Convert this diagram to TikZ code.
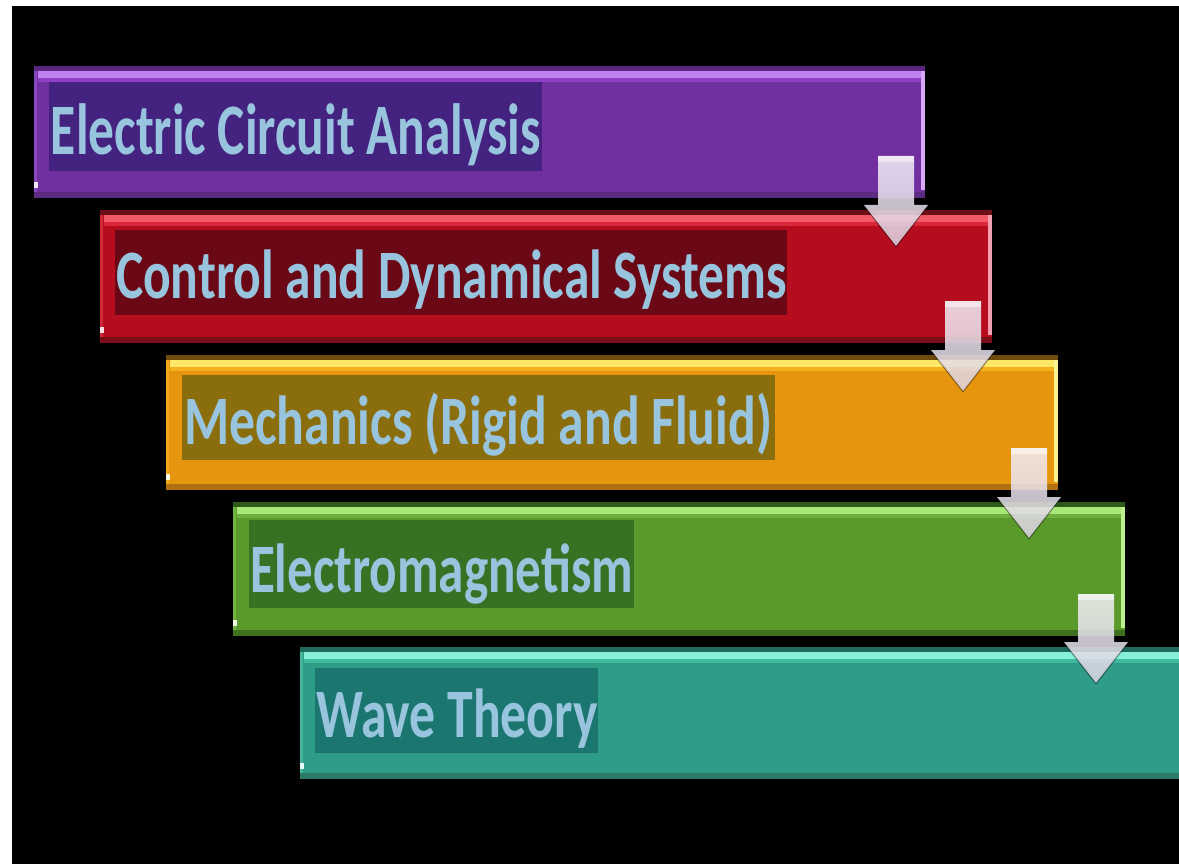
\documentclass[tikz,border=0pt]{standalone}
\usepackage{graphicx}
\usepackage{fontspec}
\setmainfont{Carlito}
\usetikzlibrary{calc}

% bar palettes: M main, D top rim, H highlight, I under-highlight, B bottom rim, E left edge, R right edge, L label
\definecolor{pM}{HTML}{7030A0}\definecolor{pD}{HTML}{5A2680}\definecolor{pH}{HTML}{C080F0}
\definecolor{pI}{HTML}{9040C8}\definecolor{pB}{HTML}{5C2C80}\definecolor{pE}{HTML}{8A48C0}
\definecolor{pR}{HTML}{D8A8F8}\definecolor{pL}{HTML}{442280}

\definecolor{rM}{HTML}{B50D1E}\definecolor{rD}{HTML}{6E0F18}\definecolor{rH}{HTML}{F25A68}
\definecolor{rI}{HTML}{D8283A}\definecolor{rB}{HTML}{7A0E18}\definecolor{rE}{HTML}{D02A3A}
\definecolor{rR}{HTML}{F0A0B0}\definecolor{rL}{HTML}{6A0816}

\definecolor{oM}{HTML}{E6950F}\definecolor{oD}{HTML}{6E4A0C}\definecolor{oH}{HTML}{FFE868}
\definecolor{oI}{HTML}{F5B020}\definecolor{oB}{HTML}{B07010}\definecolor{oE}{HTML}{F2A81C}
\definecolor{oR}{HTML}{FFF090}\definecolor{oL}{HTML}{8A6E0E}

\definecolor{gM}{HTML}{5A9A2A}\definecolor{gD}{HTML}{2E5A18}\definecolor{gH}{HTML}{A8E878}
\definecolor{gI}{HTML}{70B040}\definecolor{gB}{HTML}{3E7020}\definecolor{gE}{HTML}{72B440}
\definecolor{gR}{HTML}{C0F090}\definecolor{gL}{HTML}{367224}

\definecolor{tM}{HTML}{2E9C87}\definecolor{tD}{HTML}{1E6A5C}\definecolor{tH}{HTML}{88F0D8}
\definecolor{tI}{HTML}{40B8A0}\definecolor{tB}{HTML}{2A7A66}\definecolor{tE}{HTML}{44B49C}
\definecolor{tR}{HTML}{2E9C87}\definecolor{tL}{HTML}{1C7670}

\definecolor{lbltxt}{HTML}{98C4DE}
\definecolor{arrowtop}{HTML}{F4F0F8}
\definecolor{arrowbot}{HTML}{DCD4E2}

\tikzset{
  barnode/.style={rectangle, inner sep=0pt, outer sep=0pt, anchor=north west},
  labelbg/.style={rectangle, inner sep=0pt, outer sep=0pt, anchor=north west},
  labeltext/.style={anchor=base west, inner sep=0pt, outer sep=0pt, text=lbltxt,
    font=\fontsize{40}{48}\selectfont\bfseries},
  flowarrow/.style={top color=arrowtop, bottom color=arrowbot, fill opacity=0.85},
  flowshadow/.style={draw=black, line width=2pt, opacity=0.45},
}

% text stretched to a given width and cap height
\newcommand{\fittext}[3]{\resizebox{#1}{#2}{\rule{0pt}{\fontcharht\font`E}\smash{#3}}}

% one bar: #1 name, #2 palette prefix, #3 left, #4 top, #5 right, #6 bottom (pixel units, y downwards)
\newcommand{\barbox}[6]{%
  \node[barnode, fill=#2M, minimum width={(#5-#3)*1pt}, minimum height={(#6-#4)*1pt}] (#1) at (#3,#4) {};
  \fill[#2D] (#1.north west) rectangle ($(#1.north east)+(0,5)$);
  \fill[#2H] ($(#1.north west)+(4,5)$) rectangle ($(#1.north east)+(0,12)$);
  \fill[#2I] ($(#1.north west)+(4,12)$) rectangle ($(#1.north east)+(0,16)$);
  \fill[#2B] ($(#1.south west)+(0,-6)$) rectangle (#1.south east);
  \fill[#2E] ($(#1.north west)+(0,5)$) rectangle ($(#1.south west)+(3,-6)$);
  \fill[#2R] ($(#1.north east)+(-4,5)$) rectangle ($(#1.south east)+(0,-8)$);
  \fill[white!80!#2H] ($(#1.south west)+(0,-16)$) rectangle ($(#1.south west)+(4,-10)$);
}

% label panel: #1 name, #2 palette, #3 left, #4 top, #5 right, #6 bottom
\newcommand{\barlabel}[6]{%
  \node[labelbg, fill=#2L, minimum width={(#5-#3)*1pt}, minimum height={(#6-#4)*1pt}] (#1) at (#3,#4) {};
}

% block arrow from the lower right of one bar into the next one
\newcommand{\steparrow}[2]{%
  \path[flowshadow] let \p1=(#1.south east), \p2=(#2.north) in
    (\x1-29pt+32pt,\y2+5pt) -- (\x1-29pt,\y2-36pt) -- (\x1-29pt-32pt,\y2+5pt);
  \shade[flowarrow] let \p1=(#1.south east), \p2=(#2.north) in
    (\x1-29pt-18pt,\y1+42pt) -- (\x1-29pt+18pt,\y1+42pt) -- (\x1-29pt+18pt,\y2+5pt)
    -- (\x1-29pt+32pt,\y2+5pt) -- (\x1-29pt,\y2-36pt) -- (\x1-29pt-32pt,\y2+5pt)
    -- (\x1-29pt-18pt,\y2+5pt) -- cycle;
  \fill[white, opacity=0.5] let \p1=(#1.south east) in
    (\x1-29pt-18pt,\y1+42pt) rectangle (\x1-29pt+18pt,\y1+36pt);
}

\begin{document}
\begin{tikzpicture}[x=1pt, y=-1pt]
  \useasboundingbox (0,0) rectangle (1179,864);
  \clip (0,0) rectangle (1179,864);
  \fill[white] (0,0) rectangle (1179,864);
  \fill[black] (12,6) rectangle (1179,864);

  \barbox{b1}{p}{34}{66}{925}{198}
  \barbox{b2}{r}{100}{210}{992}{343}
  \barbox{b3}{o}{166}{355}{1058}{490}
  \barbox{b4}{g}{233}{502}{1125}{636}
  \barbox{b5}{t}{300}{647}{1200}{779}

  \barlabel{l1}{p}{49}{82}{542}{171}
  \barlabel{l2}{r}{115}{230}{787}{315}
  \barlabel{l3}{o}{182}{375}{775}{460}
  \barlabel{l4}{g}{249}{520}{634}{608}
  \barlabel{l5}{t}{315}{668}{598}{753}

  \node[labeltext] (t1) at (51,155) {\fittext{490pt}{47pt}{Electric Circuit Analysis}};
  \node[labeltext] (t2) at (116,298) {\fittext{671pt}{45pt}{Control and Dynamical Systems}};
  \node[labeltext] (t3) at (184,444) {\fittext{588pt}{45pt}{Mechanics (Rigid and Fluid)}};
  \node[labeltext] (t4) at (250,592) {\fittext{383pt}{45pt}{Electromagnetism}};
  \node[labeltext] (t5) at (316,737) {\fittext{282pt}{45pt}{Wave Theory}};

  \steparrow{b1}{b2}
  \steparrow{b2}{b3}
  \steparrow{b3}{b4}
  \steparrow{b4}{b5}
\end{tikzpicture}
\end{document}
